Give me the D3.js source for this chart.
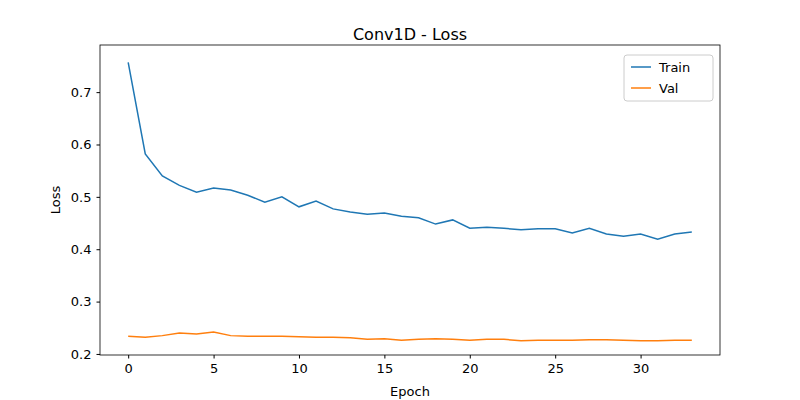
<!DOCTYPE html>
<html><head><meta charset="utf-8">
<script src="https://cdn.jsdelivr.net/npm/d3@7"></script>
<style>body{margin:0;background:#fff}text{font-family:"DejaVu Sans",sans-serif}</style>
</head><body><div id="chart"></div>
<script>
const epochs = d3.range(34)
const trainLoss = [0.757,0.582,0.540,0.522,0.509,0.517,0.513,0.503,0.490,0.500,0.481,0.492,0.477,0.471,0.467,0.469,0.463,0.460,0.448,0.456,0.440,0.442,0.440,0.437,0.439,0.439,0.431,0.440,0.429,0.425,0.429,0.419,0.429,0.433]
const valLoss = [0.234,0.232,0.235,0.240,0.238,0.242,0.235,0.234,0.234,0.234,0.233,0.232,0.232,0.231,0.228,0.229,0.226,0.228,0.229,0.228,0.226,0.228,0.228,0.225,0.226,0.226,0.226,0.227,0.227,0.226,0.225,0.225,0.226,0.226]
const xTicks = [0,5,10,15,20,25,30]
const yTicks = [0.2,0.3,0.4,0.5,0.6,0.7]

const margin = {top: 45, right: 80, bottom: 45, left: 100}
const width = 800 - margin.left - margin.right
const height = 400 - margin.top - margin.bottom

const svg = d3.select('#chart').append('svg').attr('width', 800).attr('height', 400)
const g = svg.append('g').attr('transform', 'translate(' + margin.left + ',' + margin.top + ')')

const x = d3.scaleLinear().domain([-1.65, 34.65]).range([0, width])
const y = d3.scaleLinear().domain([0.198, 0.790]).range([height, 0])

const xAxis = g.append('g').attr('transform', 'translate(0,' + height + ')')
  .call(d3.axisBottom(x).tickValues(xTicks).tickSize(3.5).tickPadding(5))
const yAxis = g.append('g')
  .call(d3.axisLeft(y).tickValues(yTicks).tickFormat(d3.format('.1f')).tickSize(3.5).tickPadding(5))
g.selectAll('.domain').remove()
g.selectAll('.tick text').attr('font-size', 13).attr('fill', '#000').style('font-family', 'DejaVu Sans')
g.selectAll('.tick line').attr('stroke', '#000')

const line = d3.line().x((d, i) => x(epochs[i])).y(d => y(d))
g.append('path').datum(trainLoss).attr('d', line).attr('fill', 'none').attr('stroke', '#1f77b4').attr('stroke-width', 1.5)
g.append('path').datum(valLoss).attr('d', line).attr('fill', 'none').attr('stroke', '#ff7f0e').attr('stroke-width', 1.5)

g.append('rect').attr('width', width).attr('height', height).attr('fill', 'none').attr('stroke', '#000').attr('stroke-width', 0.8)

svg.append('text').attr('x', margin.left + width / 2).attr('y', 40).attr('text-anchor', 'middle').attr('font-size', 16).text('Conv1D - Loss')
svg.append('text').attr('x', margin.left + width / 2).attr('y', 396).attr('text-anchor', 'middle').attr('font-size', 13).text('Epoch')
svg.append('text').attr('transform', 'translate(60,' + (margin.top + height / 2) + ') rotate(-90)').attr('text-anchor', 'middle').attr('font-size', 13).text('Loss')

const series = [{name: 'Train', color: '#1f77b4'}, {name: 'Val', color: '#ff7f0e'}]
const lg = svg.append('g').attr('transform', 'translate(624,55)')
lg.append('rect').attr('width', 89).attr('height', 46).attr('rx', 3).attr('fill', '#fff').attr('stroke', '#ccc')
series.forEach((s, i) => {
  lg.append('line').attr('x1', 7).attr('x2', 27).attr('y1', 12 + i * 21).attr('y2', 12 + i * 21).attr('stroke', s.color).attr('stroke-width', 1.5)
  lg.append('text').attr('x', 35).attr('y', 17 + i * 21).attr('font-size', 13).text(s.name)
})
</script></body></html>
